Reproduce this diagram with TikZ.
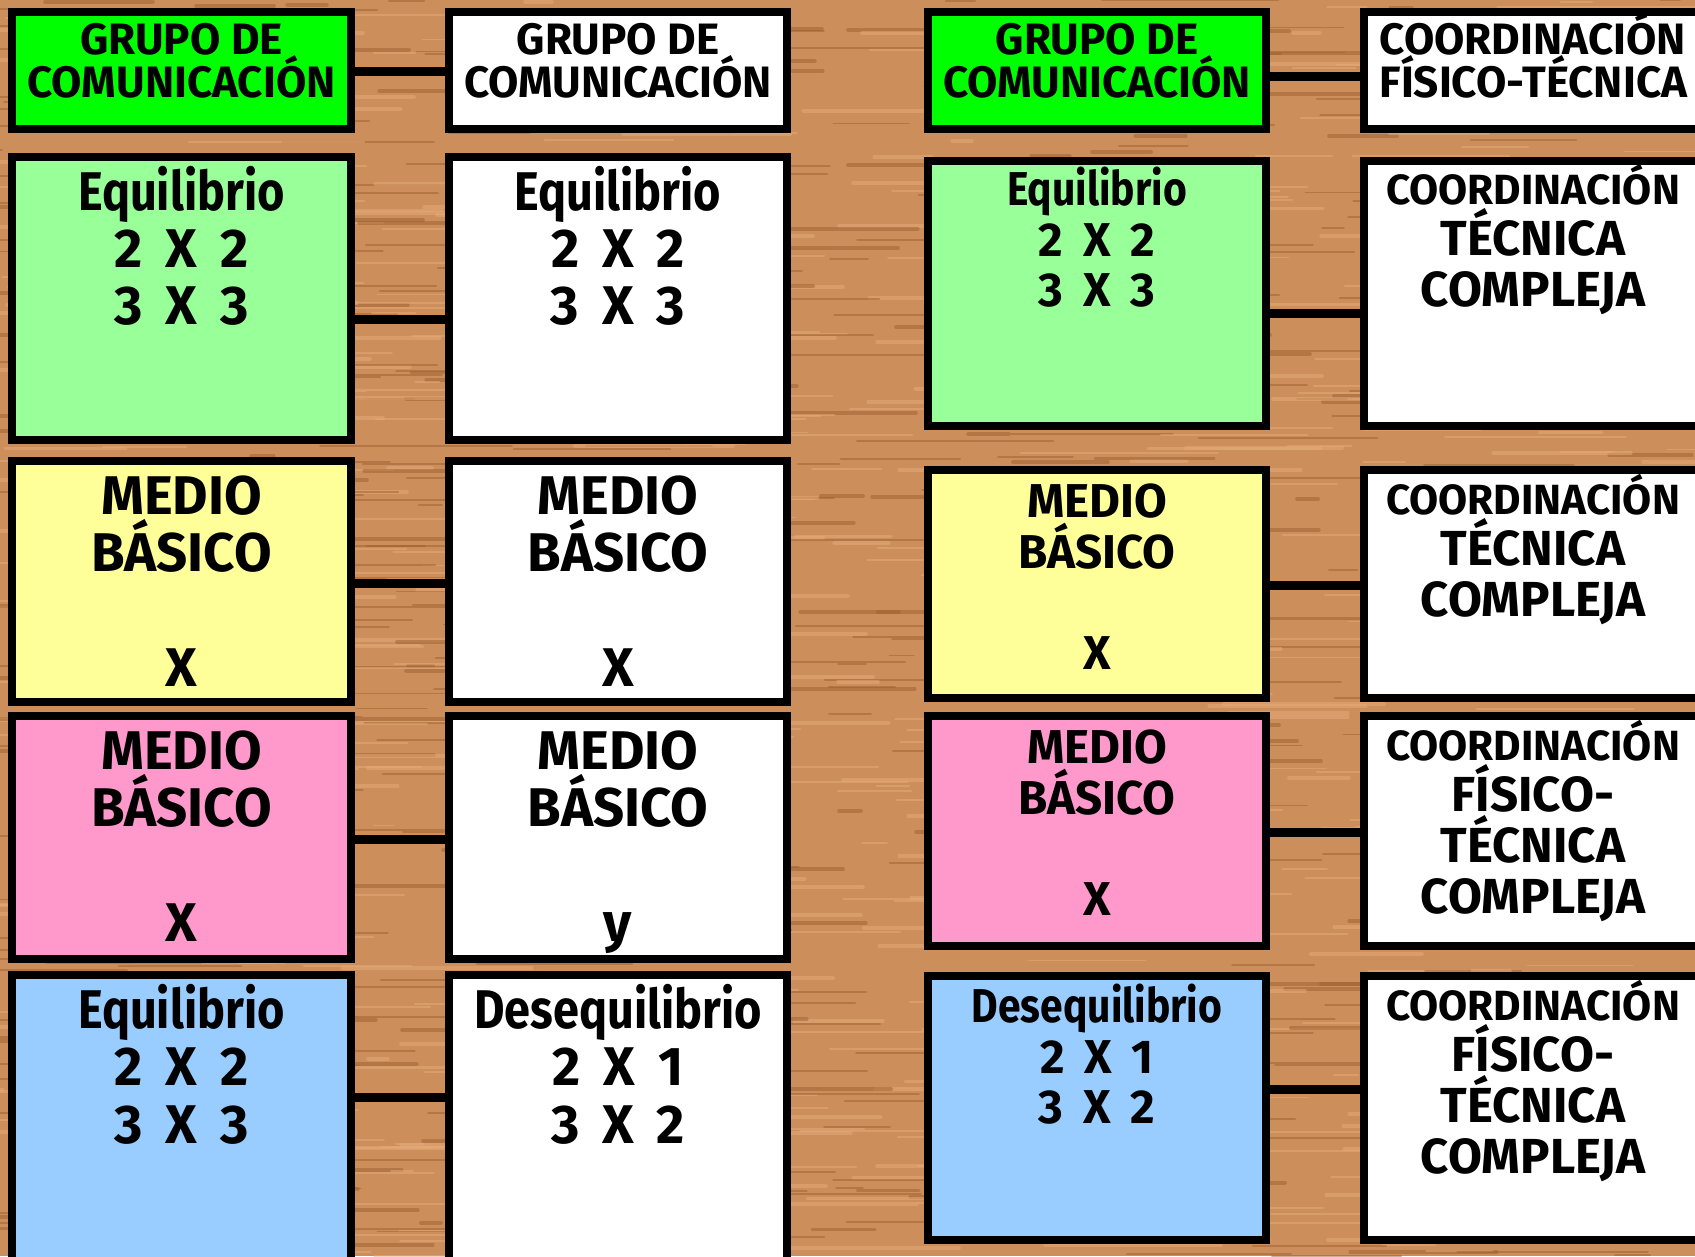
\documentclass[tikz,border=0pt]{standalone}
\usepackage{fontspec}
\setmainfont{Fira Sans}
\newfontfamily\narrowfont[FakeStretch=0.86]{Fira Sans}
\usetikzlibrary{positioning, calc}
\definecolor{GV}{RGB}{0,255,0}
\definecolor{GL}{RGB}{153,255,153}
\definecolor{AM}{RGB}{255,255,153}
\definecolor{RS}{RGB}{255,153,204}
\definecolor{AZ}{RGB}{153,204,255}
\definecolor{WD}{RGB}{204,142,90}
\definecolor{WK}{RGB}{158,96,48}
\definecolor{WL}{RGB}{228,172,122}
\newcommand{\tp}{\rule{0pt}{1em}}
\newcommand{\by}{\hspace{0.42em}X\hspace{0.42em}}
\newcommand{\coordword}{{\fontsize{12pt}{14.45pt}\selectfont COORDINACIÓN}}
\newcommand{\nw}[1]{{\narrowfont\bfseries #1}}

\begin{document}
\begin{tikzpicture}[x=0.01cm, y=-0.01cm,
  box/.style={draw=black, line width=0.08cm, fill=#1, anchor=north,
              minimum width=3.38cm, inner sep=0pt},
  txt/.style={align=center, anchor=north, inner sep=0pt},
  hdr/.style={txt, font=\bfseries\fontsize{12.5pt}{12.2pt}\selectfont},
  big/.style={txt, font=\bfseries\fontsize{15.5pt}{16.3pt}\selectfont},
  mid/.style={txt, font=\bfseries\fontsize{13.5pt}{14.45pt}\selectfont},
  crd/.style={txt, font=\bfseries\fontsize{14pt}{14.45pt}\selectfont},
  lnk/.style={line width=0.09cm, draw=black},
  grain/.style={line cap=round, opacity=0.5}
]
\useasboundingbox (0,0) rectangle (1695,1256);
\clip (0,0) rectangle (1695,1256);
\fill[WD] (0,0) rectangle (1695,1256);

% wood grain
\pgfmathsetseed{42}
\foreach \i in {1,...,1400}{
  \pgfmathsetmacro{\wx}{random(-100,1700)}
  \pgfmathsetmacro{\wy}{random(0,1256)}
  \pgfmathsetmacro{\wl}{random(20,200)}
  \pgfmathsetmacro{\ww}{random(8,40)/10}
  \pgfmathtruncatemacro{\wc}{mod(\i,2)}
  \ifnum\wc=0 \def\wcol{WK}\else\def\wcol{WL}\fi
  \draw[grain, draw=\wcol, line width=\ww*0.01cm] (\wx,\wy) -- ++(\wl,0);
}

% column 1
\node[box=GV, minimum height=1.17cm] (g1) at (181.5,8) {};
\node[box=GL, minimum height=2.83cm] (g2) at (181.5,153) {};
\node[box=AM, minimum height=2.41cm] (g3) at (181.5,457) {};
\node[box=RS, minimum height=2.43cm] (g4) at (181.5,712) {};
\node[box=AZ, minimum height=3.11cm] (g5) at (181.5,971) {};
% column 2
\node[box=white, minimum height=1.17cm] (w1) at (618,8) {};
\node[box=white, minimum height=2.83cm] (w2) at (618,153) {};
\node[box=white, minimum height=2.41cm] (w3) at (618,457) {};
\node[box=white, minimum height=2.43cm] (w4) at (618,712) {};
\node[box=white, minimum height=3.11cm] (w5) at (618,971) {};
% column 3
\node[box=GV, minimum height=1.17cm] (v1) at (1097,8) {};
\node[box=GL, minimum height=2.65cm] (v2) at (1097,157) {};
\node[box=AM, minimum height=2.28cm] (v3) at (1097,466) {};
\node[box=RS, minimum height=2.30cm] (v4) at (1097,712) {};
\node[box=AZ, minimum height=2.64cm] (v5) at (1097,972) {};
% column 4
\node[box=white, minimum height=1.17cm] (c1) at (1533,8) {};
\node[box=white, minimum height=2.65cm] (c2) at (1533,157) {};
\node[box=white, minimum height=2.28cm] (c3) at (1533,466) {};
\node[box=white, minimum height=2.30cm] (c4) at (1533,712) {};
\node[box=white, minimum height=2.64cm] (c5) at (1533,972) {};

% texts
\node[hdr] (g1t) at ([yshift=-0.6pt]g1.north) {\tp GRUPO DE\\COMUNICACIÓN};
\node[big] (g2t) at ([yshift=-0.6pt]g2.north) {\tp\nw{Equilibrio}\\2\by2\\3\by3};
\node[big] (g3t) at ([yshift=-0.6pt]g3.north) {\tp MEDIO\\BÁSICO\\[16.3pt]X};
\node[big] (g4t) at ([yshift=-0.6pt]g4.north) {\tp MEDIO\\BÁSICO\\[16.3pt]X};
\node[big] (g5t) at ([yshift=-0.6pt]g5.north) {\tp\nw{Equilibrio}\\2\by2\\3\by3};

\node[hdr] (w1t) at ([yshift=-0.6pt]w1.north) {\tp GRUPO DE\\COMUNICACIÓN};
\node[big] (w2t) at ([yshift=-0.6pt]w2.north) {\tp\nw{Equilibrio}\\2\by2\\3\by3};
\node[big] (w3t) at ([yshift=-0.6pt]w3.north) {\tp MEDIO\\BÁSICO\\[16.3pt]X};
\node[big] (w4t) at ([yshift=-0.6pt]w4.north) {\tp MEDIO\\BÁSICO\\[16.3pt]y};
\node[big] (w5t) at ([yshift=-0.6pt]w5.north) {\tp\nw{Desequilibrio}\\2\by1\\3\by2};

\node[hdr] (v1t) at ([yshift=-0.6pt]v1.north) {\tp GRUPO DE\\COMUNICACIÓN};
\node[mid] (v2t) at ([yshift=0pt]v2.north) {\tp\nw{Equilibrio}\\2\by2\\3\by3};
\node[mid] (v3t) at ([yshift=-0.9pt]v3.north) {\tp MEDIO\\BÁSICO\\[14.45pt]X};
\node[mid] (v4t) at ([yshift=-0.9pt]v4.north) {\tp MEDIO\\BÁSICO\\[14.45pt]X};
\node[mid] (v5t) at ([yshift=-0.6pt]v5.north) {\tp\nw{Desequilibrio}\\2\by1\\3\by2};

\node[hdr, align=left, anchor=north west] (c1t)
  at ([xshift=0.19cm, yshift=-0.6pt]c1.north west) {\tp COORDINACIÓN\\FÍSICO-TÉCNICA};
\node[crd] (c2t) at ([yshift=0.6pt]c2.north) {\tp\coordword\\TÉCNICA\\COMPLEJA};
\node[crd] (c3t) at ([yshift=0.3pt]c3.north) {\tp\coordword\\TÉCNICA\\COMPLEJA};
\node[crd] (c4t) at ([yshift=0.3pt]c4.north) {\tp\coordword\\FÍSICO-\\TÉCNICA\\COMPLEJA};
\node[crd] (c5t) at ([yshift=0.3pt]c5.north) {\tp\coordword\\FÍSICO-\\TÉCNICA\\COMPLEJA};

% links
\draw[lnk] ([yshift=-0.63cm]g1.north east) -- ([yshift=-0.63cm]w1.north west);
\draw[lnk] ([yshift=-1.66cm]g2.north east) -- ([yshift=-1.66cm]w2.north west);
\draw[lnk] ([yshift=-1.26cm]g3.north east) -- ([yshift=-1.26cm]w3.north west);
\draw[lnk] ([yshift=-1.27cm]g4.north east) -- ([yshift=-1.27cm]w4.north west);
\draw[lnk] ([yshift=-1.26cm]g5.north east) -- ([yshift=-1.26cm]w5.north west);
\draw[lnk] ([yshift=-0.68cm]v1.north east) -- ([yshift=-0.68cm]c1.north west);
\draw[lnk] ([yshift=-1.56cm]v2.north east) -- ([yshift=-1.56cm]c2.north west);
\draw[lnk] ([yshift=-1.19cm]v3.north east) -- ([yshift=-1.19cm]c3.north west);
\draw[lnk] ([yshift=-1.20cm]v4.north east) -- ([yshift=-1.20cm]c4.north west);
\draw[lnk] ([yshift=-1.17cm]v5.north east) -- ([yshift=-1.17cm]c5.north west);
\end{tikzpicture}
\end{document}
